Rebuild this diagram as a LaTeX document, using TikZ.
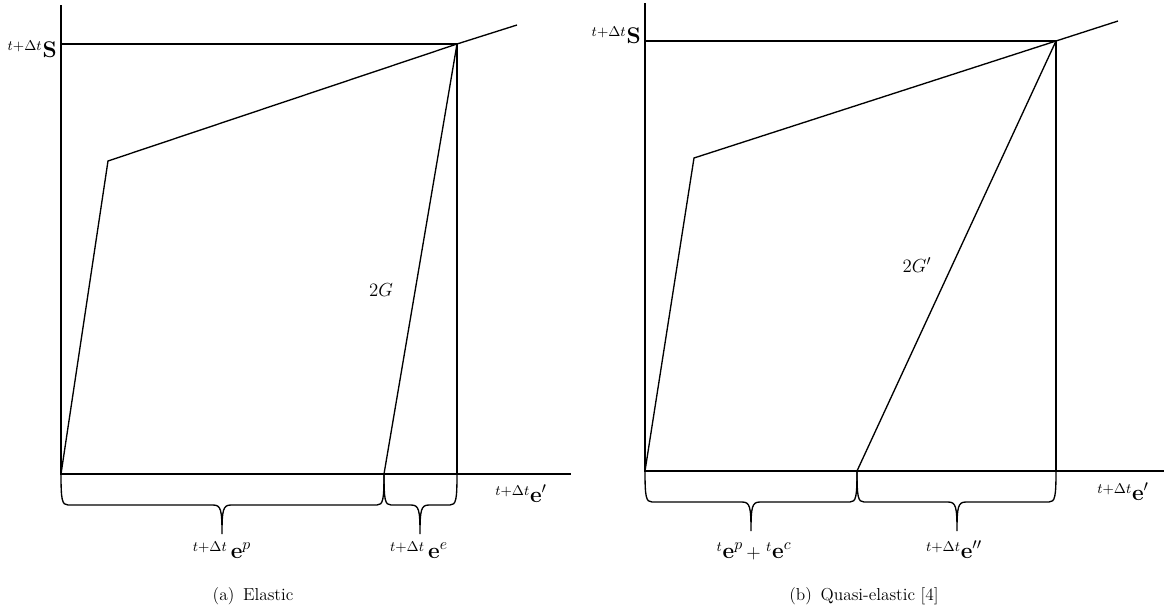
\documentclass[tikz,border=0pt]{standalone}
\usepackage{amsmath}
\tikzset{
  lbl/.style={inner sep=0pt, font=\fontsize{12.5}{15}\selectfont},
  captxt/.style={inner sep=0pt, font=\fontsize{11}{13}\selectfont},
  ln/.style={line width=0.85pt, line join=miter},
}
\newcommand\bigsym[1]{{\fontsize{14.5}{17}\selectfont$#1$}}
\newcommand\mybrace[4]{%
  \draw[ln] (#1,#4) .. controls (#1,{#4+26}) and ({#1+1},{#4+31}) .. ({#1+7},{#4+31})
   -- ({#3-9},{#4+31}) .. controls ({#3-1},{#4+31}) and (#3,{#4+36}) .. (#3,{#4+60})
   .. controls (#3,{#4+36}) and ({#3+1},{#4+31}) .. ({#3+9},{#4+31})
   -- ({#2-7},{#4+31}) .. controls ({#2-1},{#4+31}) and (#2,{#4+26}) .. (#2,#4);}
\begin{document}
\begin{tikzpicture}[x=0.635pt,y=-0.635pt]
\useasboundingbox (0,0) rectangle (1174,614);
% ---------- panel (a)
\coordinate (Oa) at (61,474);
\coordinate (Ya) at (61,5);
\coordinate (Xa) at (571,474);
\coordinate (Ka) at (108,161);
\coordinate (Pa) at (457,44);
\coordinate (Ea) at (517,25);
\coordinate (Sa) at (61,44);
\coordinate (Fa) at (457,474);
\coordinate (Ua) at (384,474);
\draw[ln] (Ya) -- (Oa) -- (Xa);
\draw[ln] (Sa) -- (Pa) -- (Fa);
\draw[ln] (Oa) -- (Ka) -- (Pa) -- (Ea);
\draw[ln] (Pa) -- (Ua);
\mybrace{61}{384}{222}{474}
\mybrace{384}{457}{420}{474}
\node[lbl, anchor=base east] (sa) at (57,57) {${}^{t+\Delta t}$\bigsym{\mathbf{S}}};
\node[lbl] (ga) at (381,290) {$2G$};
\node[lbl, anchor=base west] (xa) at (495,502) {${}^{t+\Delta t}$\bigsym{\mathbf{e}'}};
\node[lbl, anchor=base] (pa) at (222,558) {${}^{t+\Delta t}$\,\bigsym{\mathbf{e}^{p}}};
\node[lbl, anchor=base] (ea) at (419,558) {${}^{t+\Delta t}$\,\bigsym{\mathbf{e}^{e}}};
\node[captxt, anchor=base] (capa) at (253,600) {(a)\enspace Elastic};
% ---------- panel (b)
\coordinate (Ob) at (645,471);
\coordinate (Yb) at (645,3);
\coordinate (Xb) at (1164,471);
\coordinate (Kb) at (694,158);
\coordinate (Pb) at (1056,41);
\coordinate (Eb) at (1118,21);
\coordinate (Sb) at (645,41);
\coordinate (Fb) at (1056,471);
\coordinate (Ub) at (857,471);
\draw[ln] (Yb) -- (Ob) -- (Xb);
\draw[ln] (Sb) -- (Pb) -- (Fb);
\draw[ln] (Ob) -- (Kb) -- (Pb) -- (Eb);
\draw[ln] (Pb) -- (Ub);
\mybrace{645}{857}{751}{471}
\mybrace{857}{1056}{957}{471}
\node[lbl, anchor=base east] (sb) at (641,43) {${}^{t+\Delta t}$\bigsym{\mathbf{S}}};
\node[lbl] (gb) at (917,265) {$2G'$};
\node[lbl, anchor=base west] (xb) at (1097,500) {${}^{t+\Delta t}$\bigsym{\mathbf{e}'}};
\node[lbl, anchor=base] (cb) at (754,558) {${}^{t}$\bigsym{\mathbf{e}^{p}}\,$+$\;${}^{t}$\bigsym{\mathbf{e}^{c}}};
\node[lbl, anchor=base] (eb) at (954,558) {${}^{t+\Delta t}$\bigsym{\mathbf{e}''}};
\node[captxt, anchor=base] (capb) at (864,600) {(b)\enspace Quasi-elastic [4]};
\end{tikzpicture}
\end{document}
